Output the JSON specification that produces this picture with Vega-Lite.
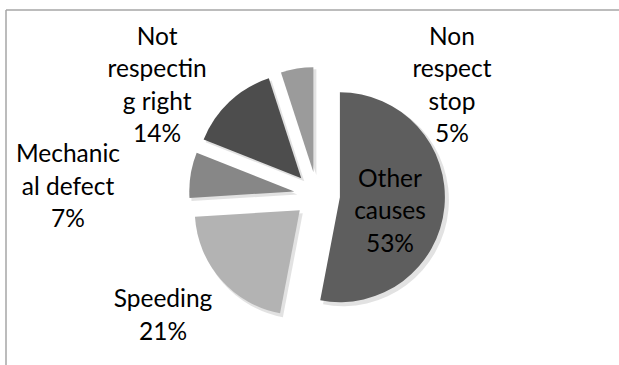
{
  "$schema": "https://vega.github.io/schema/vega-lite/v6.json",
  "width": 613,
  "height": 355,
  "autosize": {"type": "none"},
  "padding": {"left": 6, "top": 10, "right": 0, "bottom": 0},
  "background": "white",
  "config": {"view": {"stroke": null}},
  "layer": [
    {
      "data": {"values": [{"edge": "frame"}]},
      "layer": [
        {"mark": {"type": "rule", "color": "#a6a6a6", "strokeWidth": 1.5}, "encoding": {"y": {"value": 0}}},
        {"mark": {"type": "rule", "color": "#a6a6a6", "strokeWidth": 1.5}, "encoding": {"x": {"value": 0}}}
      ]
    },
    {
      "data": {
        "values": [
          {"cause": "Other causes", "label": "Other\ncauses", "share": 53},
          {"cause": "Speeding", "label": "Speeding", "share": 21},
          {"cause": "Mechanical defect", "label": "Mechanic\nal defect", "share": 7},
          {"cause": "Not respecting right", "label": "Not\nrespectin\ng right", "share": 14},
          {"cause": "Non respect stop", "label": "Non\nrespect\nstop", "share": 5}
        ]
      },
      "transform": [
        {"window": [{"op": "row_number", "as": "idx"}]},
        {"calculate": "datum.label + '\\n' + datum.share + '%'", "as": "txt"}
      ],
      "encoding": {
        "theta": {"field": "share", "type": "quantitative", "stack": true},
        "order": {"field": "idx", "type": "quantitative"}
      },
      "layer": [
        {
          "mark": {
            "type": "arc",
            "outerRadius": 106,
            "color": "#bfbfbf",
            "opacity": 0.45,
            "xOffset": {"expr": "7.5 + 23*sin(PI*(datum.share_start+datum.share_end)/100)"},
            "yOffset": {"expr": "10.5 - 23*cos(PI*(datum.share_start+datum.share_end)/100)"}
          }
        },
        {
          "mark": {
            "type": "arc",
            "outerRadius": 105,
            "xOffset": {"expr": "4.5 + 23*sin(PI*(datum.share_start+datum.share_end)/100)"},
            "yOffset": {"expr": "7.5 - 23*cos(PI*(datum.share_start+datum.share_end)/100)"}
          },
          "encoding": {
            "color": {
              "field": "cause",
              "type": "nominal",
              "scale": {
                "domain": ["Other causes", "Speeding", "Mechanical defect", "Not respecting right", "Non respect stop"],
                "range": ["#5e5e5e", "#b3b3b3", "#878787", "#4d4d4d", "#9b9b9b"]
              },
              "legend": null
            }
          }
        },
        {
          "mark": {
            "type": "text",
            "font": "Lato",
            "fontSize": 24.5,
            "lineHeight": 32.5,
            "lineBreak": "\n",
            "align": "center",
            "baseline": "middle",
            "color": "#000000",
            "xOffset": 4.5,
            "yOffset": 7.5,
            "radius": {"expr": "datum.cause === 'Other causes' ? 74.5 : datum.cause === 'Speeding' ? 186.4 : datum.cause === 'Mechanical defect' ? 252.2 : datum.cause === 'Not respecting right' ? 224.2 : 207.1"},
            "thetaOffset": {"expr": "datum.cause === 'Other causes' ? -0.297 : datum.cause === 'Speeding' ? 0.124 : datum.cause === 'Mechanical defect' ? 0.002 : datum.cause === 'Not respecting right' ? -0.04 : 0.867"}
          },
          "encoding": {
            "text": {"field": "txt"}
          }
        }
      ]
    }
  ]
}
